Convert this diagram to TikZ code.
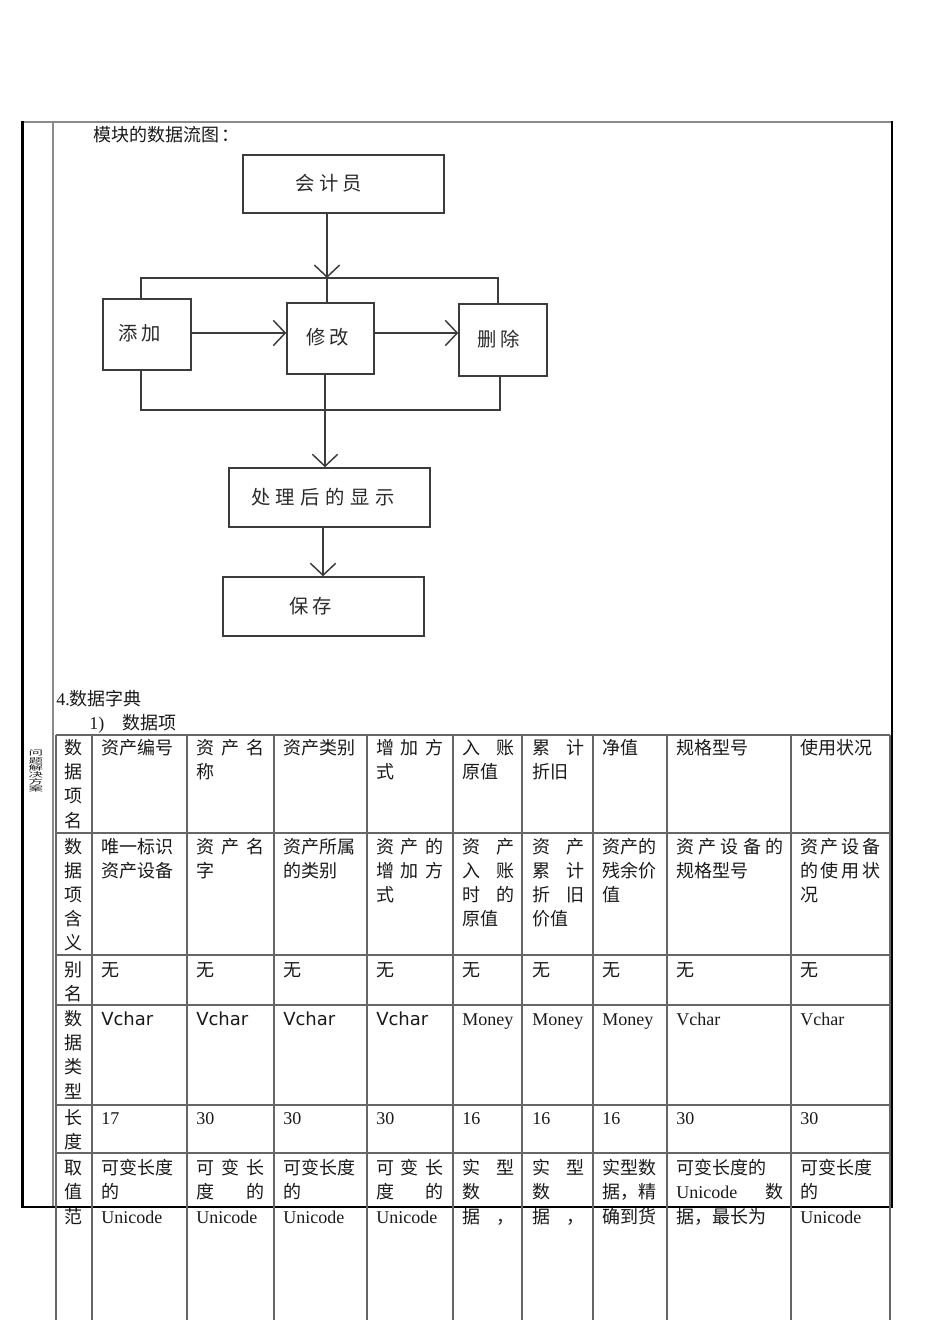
\documentclass[tikz,border=0pt]{standalone}
\usepackage{fontspec}
\usepackage{graphicx}
\setmainfont{Liberation Serif}
\newfontfamily\cjk{Noto Sans CJK SC}
\newfontfamily\dvs{DejaVu Sans}
\usetikzlibrary{arrows.meta}
\newcounter{cc}
\newcommand\cell[3]{\stepcounter{cc}\node[cellt] (t\thecc) at (#1,#2) {#3};}
\newcommand\ccell[3]{\stepcounter{cc}\node[cellc] (t\thecc) at (#1,#2) {#3};}
\newcommand\spr[2]{\makebox[\dimexpr #1pt*3/4\relax][s]{#2}}
\newcommand\gp{\hspace{3pt}}
\newcommand\sq[1]{\hbox to 11pt{\hfil\scalebox{2.1}[1]{#1}\hfil}}
\definecolor{ink}{HTML}{1A1A1A}
\definecolor{fline}{HTML}{3C3C3C}
\definecolor{ftext}{HTML}{2A2A2A}
\definecolor{tline}{HTML}{666666}
\definecolor{gline}{HTML}{8A8A8A}
\begin{document}
\begin{tikzpicture}[x=0.75pt,y=-0.75pt,
  cellt/.style={anchor=base west,inner sep=0pt,text=ink,font=\cjk\fontsize{13.5}{16}\selectfont},
  cellc/.style={anchor=base,inner sep=0pt,text=ink,font=\cjk\fontsize{13.5}{16}\selectfont},
  sidec/.style={anchor=center,inner sep=0pt,text=ink,font=\cjk\fontsize{5.2}{5.3}\selectfont},
  fbox/.style={draw=fline,line width=1.1pt,fill=white,inner sep=0pt,text=ftext,font=\cjk\fontsize{14.5}{16}\selectfont},
  fl/.style={draw=fline,line width=1.1pt},
  arr/.style={fl,-{Straight Barb[length=9pt,width=19pt,line width=1.1pt]}},
  tl/.style={draw=tline,line width=1.1pt},
  frm/.style={draw=black,line width=2pt}]
\useasboundingbox (0,0) rectangle (950,1320);
\fill[white] (0,0) rectangle (950,1320);

% outer frame
\draw[draw=gline,line width=1.2pt] (22,122) -- (892,122);
\draw[draw=gline,line width=1.2pt] (53,122) -- (53,1207);
\draw[frm] (22.5,121) -- (22.5,1208);
\draw[frm] (892,121) -- (892,1208);
\draw[draw=black,line width=1.4pt] (22,1207) -- (892,1207);

% heading
\node[cellt] (h1) at (93,141) {模块的数据流图\hspace{2pt}：};

% flowchart
\node[fbox,minimum width=150.75pt,minimum height=43.5pt] (kj) at (343.5,184) {\hspace{-22pt}\raisebox{2.2pt}{会\gp 计\gp 员}};
\node[fbox,minimum width=66pt,minimum height=53.25pt] (tj) at (147,334.5) {\hspace{-10.5pt}\raisebox{2.6pt}{添\gp 加}};
\node[fbox,minimum width=65.25pt,minimum height=53.25pt] (xg) at (330.5,338.5) {\hspace{-3.75pt}\raisebox{2.6pt}{修\gp 改}};
\node[fbox,minimum width=66pt,minimum height=54pt] (sc) at (503,340) {\hspace{-6pt}\raisebox{3pt}{删\gp 除}};
\node[fbox,minimum width=150.75pt,minimum height=44.25pt] (cl) at (329.5,497.5) {\hspace{-9.75pt}\raisebox{0.4pt}{处\hspace{4.2pt}理\hspace{4.2pt}后\hspace{4.2pt}的\hspace{4.2pt}显\hspace{4.2pt}示}};
\node[fbox,minimum width=150.75pt,minimum height=44.25pt] (bc) at (323.5,606.5) {\hspace{-18.75pt}\raisebox{1.9pt}{保\gp 存}};

\coordinate (j1) at (327,278);
\coordinate (jl) at (141,278);
\coordinate (jr) at (498,278);
\coordinate (ya) at (0,333);
\coordinate (bl) at (141,410);
\coordinate (br) at (500,410);
\coordinate (m) at (325,0);
\coordinate (n) at (323,0);

\draw[fl] (jl |- tj.north) -- (jl) -- (jr) -- (jr |- sc.north);
\draw[fl] (j1) -- (j1 |- xg.north);
\draw[arr] (kj.south -| j1) -- (j1);
\draw[arr] (tj.east |- ya) -- (xg.west |- ya);
\draw[arr] (xg.east |- ya) -- (sc.west |- ya);
\draw[fl] (bl |- tj.south) -- (bl) -- (br) -- (br |- sc.south);
\draw[arr] (m |- xg.south) -- (m |- cl.north);
\draw[arr] (n |- cl.south) -- (n |- bc.north);

% section text
\node[cellt] (s4) at (56,705) {\rmfamily 4.\cjk 数据字典};
\node[cellt] (s41) at (89,729) {\rmfamily 1)};
\node[cellt] (s42) at (122,729) {数据项};

% side label (vertically compressed glyphs)
\node[sidec] (side) at (36,771) {\vbox{\baselineskip=5.3pt\lineskiplimit=-20pt\lineskip=0pt\sq{问}\sq{题}\sq{解}\sq{决}\sq{方}\sq{案}}};

% table lines
\foreach \yy in {735,833,955,1005,1105,1153} \draw[tl] (56,\yy) -- (890,\yy);
\foreach \xx in {56,92,187,274,367,453,522,593,667,791,890} \draw[tl] (\xx,735) -- (\xx,1320);

% column 0
\ccell{73}{754}{数}\ccell{73}{778}{据}\ccell{73}{802}{项}\ccell{73}{827}{名}
\ccell{73}{853}{数}\ccell{73}{877}{据}\ccell{73}{901}{项}\ccell{73}{925}{含}\ccell{73}{949}{义}
\ccell{73}{976}{别}\ccell{73}{1000}{名}
\ccell{73}{1025}{数}\ccell{73}{1049}{据}\ccell{73}{1073}{类}\ccell{73}{1098}{型}
\ccell{73}{1124}{长}\ccell{73}{1148}{度}
\ccell{73}{1174}{取}\ccell{73}{1198}{值}\ccell{73}{1223}{范}

% row 1
\cell{101}{754}{资产编号}
\cell{196}{754}{\spr{68}{资\hfill 产\hfill 名}}\cell{196}{778}{称}
\cell{283}{754}{资产类别}
\cell{376}{754}{\spr{67}{增\hfill 加\hfill 方}}\cell{376}{778}{式}
\cell{462}{754}{\spr{52}{入\hfill 账}}\cell{462}{778}{原值}
\cell{532}{754}{\spr{52}{累\hfill 计}}\cell{532}{778}{折旧}
\cell{602}{754}{净值}
\cell{676}{754}{规格型号}
\cell{800}{754}{使用状况}

% row 2
\cell{101}{853}{唯一标识}\cell{101}{877}{资产设备}
\cell{196}{853}{\spr{68}{资\hfill 产\hfill 名}}\cell{196}{877}{字}
\cell{283}{853}{资产所属}\cell{283}{877}{的类别}
\cell{376}{853}{\spr{67}{资\hfill 产\hfill 的}}\cell{376}{877}{\spr{67}{增\hfill 加\hfill 方}}\cell{376}{901}{式}
\cell{462}{853}{\spr{52}{资\hfill 产}}\cell{462}{877}{\spr{52}{入\hfill 账}}\cell{462}{901}{\spr{52}{时\hfill 的}}\cell{462}{925}{原值}
\cell{532}{853}{\spr{52}{资\hfill 产}}\cell{532}{877}{\spr{52}{累\hfill 计}}\cell{532}{901}{\spr{52}{折\hfill 旧}}\cell{532}{925}{价值}
\cell{602}{853}{资产的}\cell{602}{877}{残余价}\cell{602}{901}{值}
\cell{676}{853}{\spr{107}{资\hfill 产\hfill 设\hfill 备\hfill 的}}\cell{676}{877}{规格型号}
\cell{800}{853}{\spr{80}{资\hfill 产\hfill 设\hfill 备}}\cell{800}{877}{\spr{80}{的\hfill 使\hfill 用\hfill 状}}\cell{800}{901}{况}

% row 3
\foreach \xx in {101,196,283,376,462,532,602,676,800} {\cell{\xx}{976}{无}}

% row 4
\foreach \xx in {101,196,283,376} {\cell{\xx}{1025}{\dvs Vchar}}
\foreach \xx in {462,532,602} {\cell{\xx}{1025}{\rmfamily Money}}
\foreach \xx in {676,800} {\cell{\xx}{1025}{\rmfamily Vchar}}

% row 5
\cell{101}{1124}{\rmfamily 17}
\foreach \xx in {196,283,376,676,800} {\cell{\xx}{1124}{\rmfamily 30}}
\foreach \xx in {462,532,602} {\cell{\xx}{1124}{\rmfamily 16}}

% row 6
\cell{101}{1174}{可变长度}\cell{101}{1198}{的}\cell{101}{1223}{\rmfamily Unicode}
\cell{196}{1174}{\spr{68}{可\hfill 变\hfill 长}}\cell{196}{1198}{\spr{68}{度\hfill 的}}\cell{196}{1223}{\rmfamily Unicode}
\cell{283}{1174}{可变长度}\cell{283}{1198}{的}\cell{283}{1223}{\rmfamily Unicode}
\cell{376}{1174}{\spr{67}{可\hfill 变\hfill 长}}\cell{376}{1198}{\spr{67}{度\hfill 的}}\cell{376}{1223}{\rmfamily Unicode}
\cell{462}{1174}{\spr{52}{实\hfill 型}}\cell{462}{1198}{数}\cell{462}{1223}{\spr{52}{据\hfill ，}}
\cell{532}{1174}{\spr{52}{实\hfill 型}}\cell{532}{1198}{数}\cell{532}{1223}{\spr{52}{据\hfill ，}}
\cell{602}{1174}{实型数}\cell{602}{1198}{据，精}\cell{602}{1223}{确到货}
\cell{676}{1174}{可变长度的}\cell{676}{1198}{\spr{107}{\rmfamily Unicode\hfill\cjk 数}}\cell{676}{1223}{据，最长为}
\cell{800}{1174}{可变长度}\cell{800}{1198}{的}\cell{800}{1223}{\rmfamily Unicode}
\end{tikzpicture}
\end{document}
